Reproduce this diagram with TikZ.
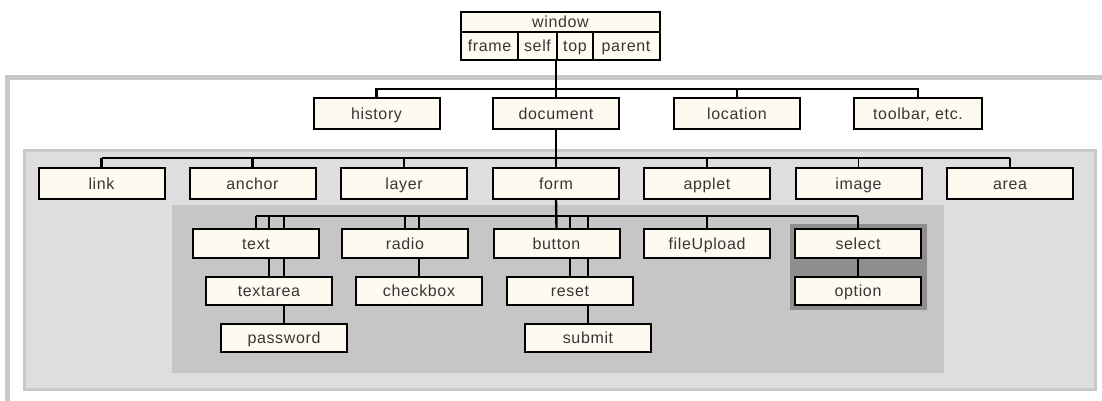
\documentclass[tikz,border=0pt]{standalone}
\usepackage{fontspec}
\setmainfont{Liberation Sans}[LetterSpace=4]
\pgfdeclarelayer{back}
\pgfsetlayers{back,main}
\begin{document}
\begin{tikzpicture}[x={(1pt,0)}, y={(0,-1pt)},
  obj/.style={draw=black, line width=2pt, fill=cream, minimum width=126pt,
    minimum height=30pt, inner sep=0pt, text=txt, text height=11.5pt, text depth=0.5pt,
    font=\fontsize{16pt}{18pt}\selectfont},
  lbl/.style={inner sep=0pt, text=txt, text height=11.5pt, text depth=0.5pt,
    font=\fontsize{16pt}{18pt}\selectfont},
  heavy/.style={line width=2.4pt},
  light/.style={line width=1.2pt},
]
\definecolor{cream}{HTML}{FEFAF0}
\definecolor{txt}{HTML}{363636}
\definecolor{panelA}{HTML}{DEDEDE}
\definecolor{panelB}{HTML}{C6C6C6}
\definecolor{panelC}{HTML}{8E8E8E}
\definecolor{rim}{HTML}{C8C8C8}

\useasboundingbox (0,0) rectangle (1102,400);

% nested panels
\begin{pgfonlayer}{back}
\draw[rim, line width=5pt, fill=white] (7.5,77) rectangle (1120,420);
\draw[rim, line width=3pt, fill=panelA] (24,150) rectangle (1095.5,389);
\fill[panelB] (172,205) rectangle (944,373);
\fill[panelC] (790,224) rectangle (927,310);
\end{pgfonlayer}

% window object with its four properties
\node[obj, minimum width=199pt, minimum height=48pt] (window) at (560.5,36) {};
\draw[light] (window.west |- 0,32) -- (window.east |- 0,32);
\draw[light] (518,32) -- (518,60);
\draw[light] (557,32) -- (557,60);
\draw[light] (593,32) -- (593,60);
\node[lbl] (wtitle) at (560.5,22) {window};
\node[lbl] (frame)  at (489.5,46) {frame};
\node[lbl] (self)   at (537.5,46) {self};
\node[lbl] (top)    at (575,46) {top};
\node[lbl] (parent) at (626,46) {parent};

% rail heights
\coordinate (r2) at (0,89);
\coordinate (r3) at (0,158);
\coordinate (r4) at (0,216);

% nodes (positions of their centres)
\node[obj, minimum height=31pt] (history)  at (376.5,113.5) {history};
\node[obj, minimum height=31pt] (document) at (556,113.5) {document};
\node[obj, minimum height=31pt] (location) at (737,113.5) {location};
\node[obj, minimum height=31pt, minimum width=128pt] (toolbar) at (918,113.5) {toolbar, etc.};

\node[obj, minimum height=31pt] (link)   at (101.5,183.5) {link};
\node[obj, minimum height=31pt] (anchor) at (252.5,183.5) {anchor};
\node[obj, minimum height=31pt] (layer)  at (404,183.5) {layer};
\node[obj, minimum height=31pt] (form)   at (556,183.5) {form};
\node[obj, minimum height=31pt] (applet) at (707,183.5) {applet};
\node[obj, minimum height=31pt] (image)  at (858.5,183.5) {image};
\node[obj, minimum height=31pt] (area)   at (1010,183.5) {area};

\node[obj, minimum height=29pt] (text)       at (256,243.5) {text};
\node[obj, minimum height=29pt] (radio)      at (405,243.5) {radio};
\node[obj, minimum height=29pt] (button)     at (556.5,243.5) {button};
\node[obj, minimum height=29pt] (fileupload) at (707,243.5) {fileUpload};
\node[obj, minimum height=29pt] (select)     at (858,243.5) {select};

\node[obj, minimum height=28pt] (textarea) at (269,291) {textarea};
\node[obj, minimum height=28pt] (checkbox) at (419,291) {checkbox};
\node[obj, minimum height=28pt] (reset)    at (570,291) {reset};
\node[obj, minimum height=28pt] (option)   at (858,291) {option};

\node[obj, minimum height=28pt] (password) at (284,338) {password};
\node[obj, minimum height=28pt] (submit)   at (588,338) {submit};

% connectors, drawn behind the boxes
\begin{pgfonlayer}{back}
% window level
\draw[heavy] (window.south -| document) -- (document.north);
\draw[heavy] (history.north) |- (toolbar.north |- r2) -- (toolbar.north);
\draw[heavy] (location.north) -- (location.north |- r2);
% document level
\draw[heavy] (document.south) -- (form.north);
\draw[light] (link.north |- r3) -- (area.north |- r3);
\draw[heavy] (link.north) -- (link.north |- r3);
\draw[heavy] (anchor.north) -- (anchor.north |- r3);
\draw[light] (layer.north) -- (layer.north |- r3);
\draw[heavy] (applet.north) -- (applet.north |- r3);
\draw[light] (image.north) -- (image.north |- r3);
\draw[heavy] (area.north) -- (area.north |- r3);
% form level
\draw[heavy] (form.south) -- (button.north);
\draw[light] (text.north |- r4) -- (select.north |- r4);
\draw[heavy] (text.north) -- (text.north |- r4);
\draw[heavy] (textarea.north) -- (textarea.north |- r4);
\draw[light] (password.north) -- (password.north |- r4);
\draw[heavy] (radio.north) -- (radio.north |- r4);
\draw[light] (checkbox.north) -- (checkbox.north |- r4);
\draw[heavy] (reset.north) -- (reset.north |- r4);
\draw[heavy] (submit.north) -- (submit.north |- r4);
\draw[heavy] (fileupload.north) -- (fileupload.north |- r4);
\draw[light] (option.north) -- (option.north |- r4);
\end{pgfonlayer}
\end{tikzpicture}
\end{document}
